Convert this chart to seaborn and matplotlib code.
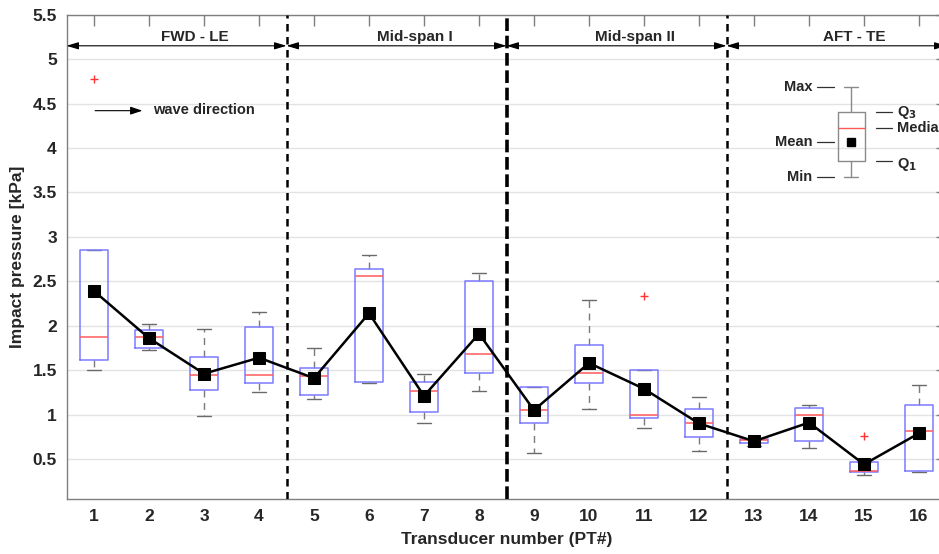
import numpy as np
import matplotlib
matplotlib.use("Agg")
import matplotlib.pyplot as plt
import seaborn as sns

# ---------------- data ----------------
transducers = list(range(1, 17))
q1 =    [1.61, 1.75, 1.28, 1.36, 1.22, 1.37, 1.03, 1.47, 0.91, 1.35, 0.96, 0.75, 0.68, 0.70, 0.35, 0.37]
q3 =    [2.85, 1.95, 1.65, 1.98, 1.52, 2.64, 1.37, 2.50, 1.31, 1.78, 1.50, 1.06, 0.73, 1.07, 0.47, 1.11]
medians = [1.87, 1.87, 1.45, 1.45, 1.43, 2.56, 1.27, 1.68, 1.05, 1.47, 1.00, 0.91, 0.71, 1.00, 0.37, 0.82]
whisk_hi = [2.85, 2.02, 1.96, 2.16, 1.75, 2.80, 1.46, 2.59, 1.31, 2.29, 1.50, 1.20, 0.73, 1.11, 0.47, 1.33]
whisk_lo = [1.50, 1.73, 0.98, 1.25, 1.18, 1.35, 0.90, 1.27, 0.57, 1.06, 0.85, 0.59, 0.65, 0.62, 0.32, 0.35]
means = [2.39, 1.86, 1.46, 1.64, 1.41, 2.14, 1.21, 1.91, 1.05, 1.58, 1.29, 0.90, 0.70, 0.91, 0.44, 0.79]
outlier_pt = [1, 11, 15]
outlier_val = [4.78, 2.34, 0.76]

regions = ["FWD - LE", "Mid-span I", "Mid-span II", "AFT - TE"]
region_bounds = [0.5, 4.5, 8.5, 12.5, 16.5]

# legend glyph stats (illustrative box)
key_stats = dict(whislo=3.67, q1=3.85, med=4.22, q3=4.40, whishi=4.69, mean=4.07)
key_labels_left = ["Max", "Mean", "Min"]
key_labels_right = ["Q$_3$", "Median", "Q$_1$"]

ytick_vals = [0.5, 1, 1.5, 2, 2.5, 3, 3.5, 4, 4.5, 5, 5.5]
ytick_labels = ["0.5", "1", "1.5", "2", "2.5", "3", "3.5", "4", "4.5", "5", "5.5"]

# ---------------- style ----------------
sns.set_theme(style="white")
plt.rcParams["font.family"] = ["Liberation Sans", "DejaVu Sans"]
plt.rcParams["font.weight"] = "bold"
plt.rcParams["mathtext.default"] = "bf"
txt = "#262626"
axc = "#7f7f7f"

fig = plt.figure(figsize=(9.39, 5.54), dpi=100)
ax = fig.add_axes([66.5 / 939, 55 / 554, 880 / 939, 484.3 / 554])

# grid
for v in ytick_vals:
    ax.axhline(v, color="#e3e3e3", lw=1.0, zorder=0)

# boxes
stats = []
for i, t in enumerate(transducers):
    fl = [outlier_val[k] for k, p in enumerate(outlier_pt) if p == t]
    stats.append(dict(med=medians[i], q1=q1[i], q3=q3[i], whislo=whisk_lo[i],
                      whishi=whisk_hi[i], fliers=fl, mean=means[i]))
bp = ax.bxp(stats, positions=transducers, widths=0.5, showmeans=False, showfliers=True,
            boxprops=dict(color="#7a7aff", lw=1.1),
            medianprops=dict(color="#ff5a5a", lw=1.1),
            whiskerprops=dict(color="#7a7a7a", lw=1.0, linestyle=(0, (5, 4))),
            capprops=dict(color="#6a6a6a", lw=1.0),
            flierprops=dict(marker="+", markeredgecolor="#ff3333", markersize=6, markeredgewidth=1.0),
            manage_ticks=False, zorder=2)
for b in bp["boxes"]:
    b.set_zorder(2.6)
for m in bp["medians"]:
    m.set_zorder(2.7)

# mean line via seaborn
sns.lineplot(x=transducers, y=means, ax=ax, color="black", lw=1.8, marker="s",
             markersize=8, markeredgecolor="black", zorder=4)

# legend key glyph
kx = 14.77
ax.bxp([dict(key_stats, fliers=[])], positions=[kx], widths=0.5, showmeans=False,
       boxprops=dict(color="#8a8a8a", lw=1.0),
       medianprops=dict(color="#ff5a5a", lw=1.0),
       whiskerprops=dict(color="#8a8a8a", lw=1.0),
       capprops=dict(color="#8a8a8a", lw=1.0), manage_ticks=False, zorder=3)
ax.plot([kx], [key_stats["mean"]], marker="s", color="black", markersize=6, zorder=4)
left_y = [key_stats["whishi"], key_stats["mean"], key_stats["whislo"]]
for lab, yv in zip(key_labels_left, left_y):
    ax.plot([14.14, 14.46], [yv, yv], color="#303030", lw=0.9)
    ax.text(14.06, yv, lab, ha="right", va="center", fontsize=10.5, fontweight="bold", color=txt)
right_y = [key_stats["q3"], key_stats["med"], key_stats["q1"]]
for lab, yv, dy in zip(key_labels_right, right_y, [0.0, 0.0, -0.04]):
    ax.plot([15.22, 15.51], [yv, yv], color="#303030", lw=0.9)
    ax.text(15.6, yv + dy, lab, ha="left", va="center", fontsize=10.5, fontweight="bold", color=txt)

# region separators
ax.axvline(4.5, color="black", lw=1.8, linestyle=(0, (3, 2.2)), zorder=3)
ax.axvline(8.5, color="black", lw=2.6, linestyle=(0, (3.5, 1.3)), zorder=3)
ax.axvline(12.5, color="black", lw=1.8, linestyle=(0, (3, 2.2)), zorder=3)

# region arrows and labels
for k, name in enumerate(regions):
    x0, x1 = region_bounds[k], region_bounds[k + 1]
    ax.annotate("", xy=(x1, 5.15), xytext=(x0, 5.15),
                arrowprops=dict(arrowstyle="<|-|>,head_length=0.6,head_width=0.18",
                                color="black", lw=0.8, shrinkA=0, shrinkB=0), zorder=5)
    ax.text((x0 + x1) / 2 + 0.33, 5.245, name, ha="center", va="center",
            fontsize=11, fontweight="bold", color=txt)

# wave direction
ax.annotate("", xy=(1.88, 4.42), xytext=(1.02, 4.42),
            arrowprops=dict(arrowstyle="-|>,head_length=0.6,head_width=0.2",
                            color="black", lw=0.8, shrinkA=0, shrinkB=0))
ax.text(2.08, 4.43, "wave direction", ha="left", va="center", fontsize=10.5,
        fontweight="bold", color=txt)

# axes
ax.set_xlim(0.5, 16.5)
ax.set_ylim(0.05, 5.5)
ax.set_xticks(transducers)
ax.set_xticklabels([str(t) for t in transducers])
ax.set_yticks(ytick_vals)
ax.set_yticklabels(ytick_labels)
ax.tick_params(axis="both", direction="in", length=8, width=1.0, color=axc,
               labelsize=12.5, labelcolor=txt, top=True, right=True, pad=7)
for lab in ax.get_xticklabels() + ax.get_yticklabels():
    lab.set_fontweight("bold")
for s in ax.spines.values():
    s.set_color(axc)
    s.set_linewidth(1.0)
ax.set_xlabel("Transducer number (PT#)", fontsize=12.5, fontweight="bold", color=txt, labelpad=6)
ax.set_ylabel("Impact pressure [kPa]", fontsize=12.5, fontweight="bold", color=txt, labelpad=5)

fig.savefig("out.png", dpi=100)
